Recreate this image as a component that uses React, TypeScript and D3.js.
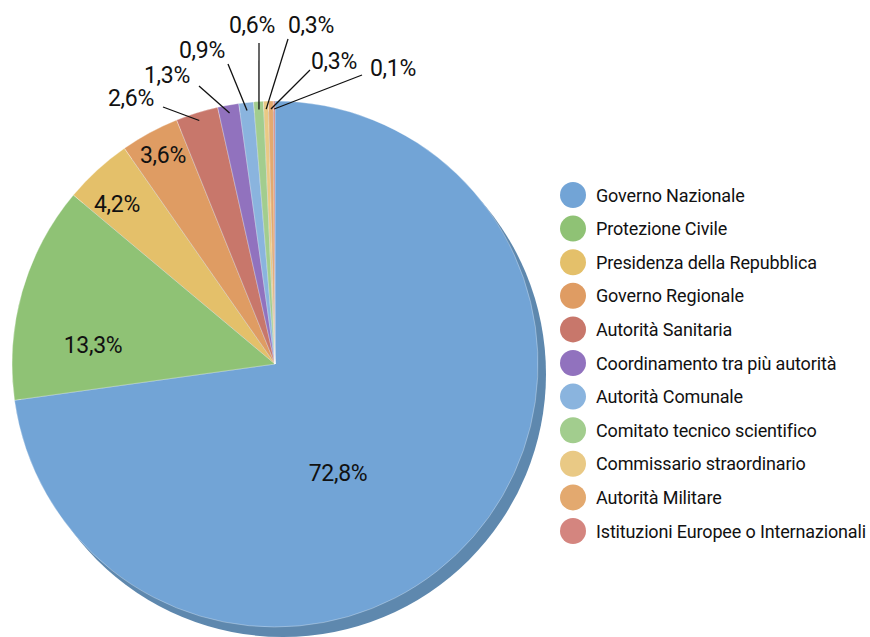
import React from 'react';
import * as d3 from 'd3';

// chart data
const categories = [
  'Governo Nazionale',
  'Protezione Civile',
  'Presidenza della Repubblica',
  'Governo Regionale',
  'Autorità Sanitaria',
  'Coordinamento tra più autorità',
  'Autorità Comunale',
  'Comitato tecnico scientifico',
  'Commissario straordinario',
  'Autorità Militare',
  'Istituzioni Europee o Internazionali',
];
const values = [72.8, 13.3, 4.2, 3.6, 2.6, 1.3, 0.9, 0.6, 0.3, 0.3, 0.1];
const colors = [
  '#72a4d6', '#8fc275', '#e4c06a', '#df9c63', '#c8776b', '#9172be',
  '#8ab4de', '#a2cd8e', '#e9c985', '#e3a96f', '#d4857f',
];

// label placement (Excel-style)
const labelPos: [number, number][] = [
  [338, 473], [93, 345], [117, 204], [163, 155], [131, 98], [167, 75],
  [202, 50], [252, 25], [311, 25], [334, 61], [393, 68],
];
// leader start points for the labels outside the pie (null = inside)
const leaderStart: ([number, number] | null)[] = [
  null, null, null, null, [163, 107], [199, 86], [228, 64], [259, 43],
  [288, 39], [310, 70], [362, 75],
];

const W = 870;
const H = 637;
const cx = 275;
const cy = 364;
const R = 263;

const fmt = (v: number) => v.toFixed(1).replace('.', ',') + '%';

export default function App() {
  const pie = d3.pie<number>().sort(null).value(d => d);
  const arcs = pie(values);
  const arc = d3.arc<d3.PieArcDatum<number>>().innerRadius(0).outerRadius(R);

  const legendY = d3.scalePoint<number>()
    .domain(d3.range(categories.length))
    .range([195, 531]);

  const font = 'Roboto, "Liberation Sans", Arial, sans-serif';

  return (
    <svg width={W} height={H} style={{ position: 'absolute', left: 0, top: 0, display: 'block' }}>
      <rect width={W} height={H} fill="#ffffff" />
      {/* 3D edge */}
      <circle cx={cx + 8} cy={cy + 10} r={R} fill="#5e88ae" />
      <g transform={`translate(${cx},${cy})`}>
        {arcs.map((a, i) => (
          <path key={i} d={arc(a) || ''} fill={colors[i]} stroke="#ffffff" strokeOpacity={0.5} strokeWidth={0.6} />
        ))}
      </g>
      {/* leader lines */}
      {arcs.map((a, i) => {
        const s = leaderStart[i];
        if (!s) return null;
        const mid = (a.startAngle + a.endAngle) / 2;
        const rr = R - 8;
        const ex = cx + Math.sin(mid) * rr;
        const ey = cy - Math.cos(mid) * rr;
        return <line key={i} x1={s[0]} y1={s[1]} x2={ex} y2={ey} stroke="#111111" strokeWidth={1.3} />;
      })}
      {values.map((v, i) => (
        <text
          key={i}
          x={labelPos[i][0]}
          y={labelPos[i][1]}
          textAnchor="middle"
          dominantBaseline="central"
          fontFamily={font}
          fontSize={23}
          letterSpacing={-0.3}
          fill="#111111"
        >
          {fmt(v)}
        </text>
      ))}
      {/* legend */}
      {categories.map((c, i) => (
        <g key={c} transform={`translate(573,${legendY(i)})`}>
          <circle r={13} fill={colors[i]} />
          <text x={23} y={0} dominantBaseline="central" fontFamily={font} fontSize={18} letterSpacing={-0.15} fill="#111111">
            {c}
          </text>
        </g>
      ))}
    </svg>
  );
}
